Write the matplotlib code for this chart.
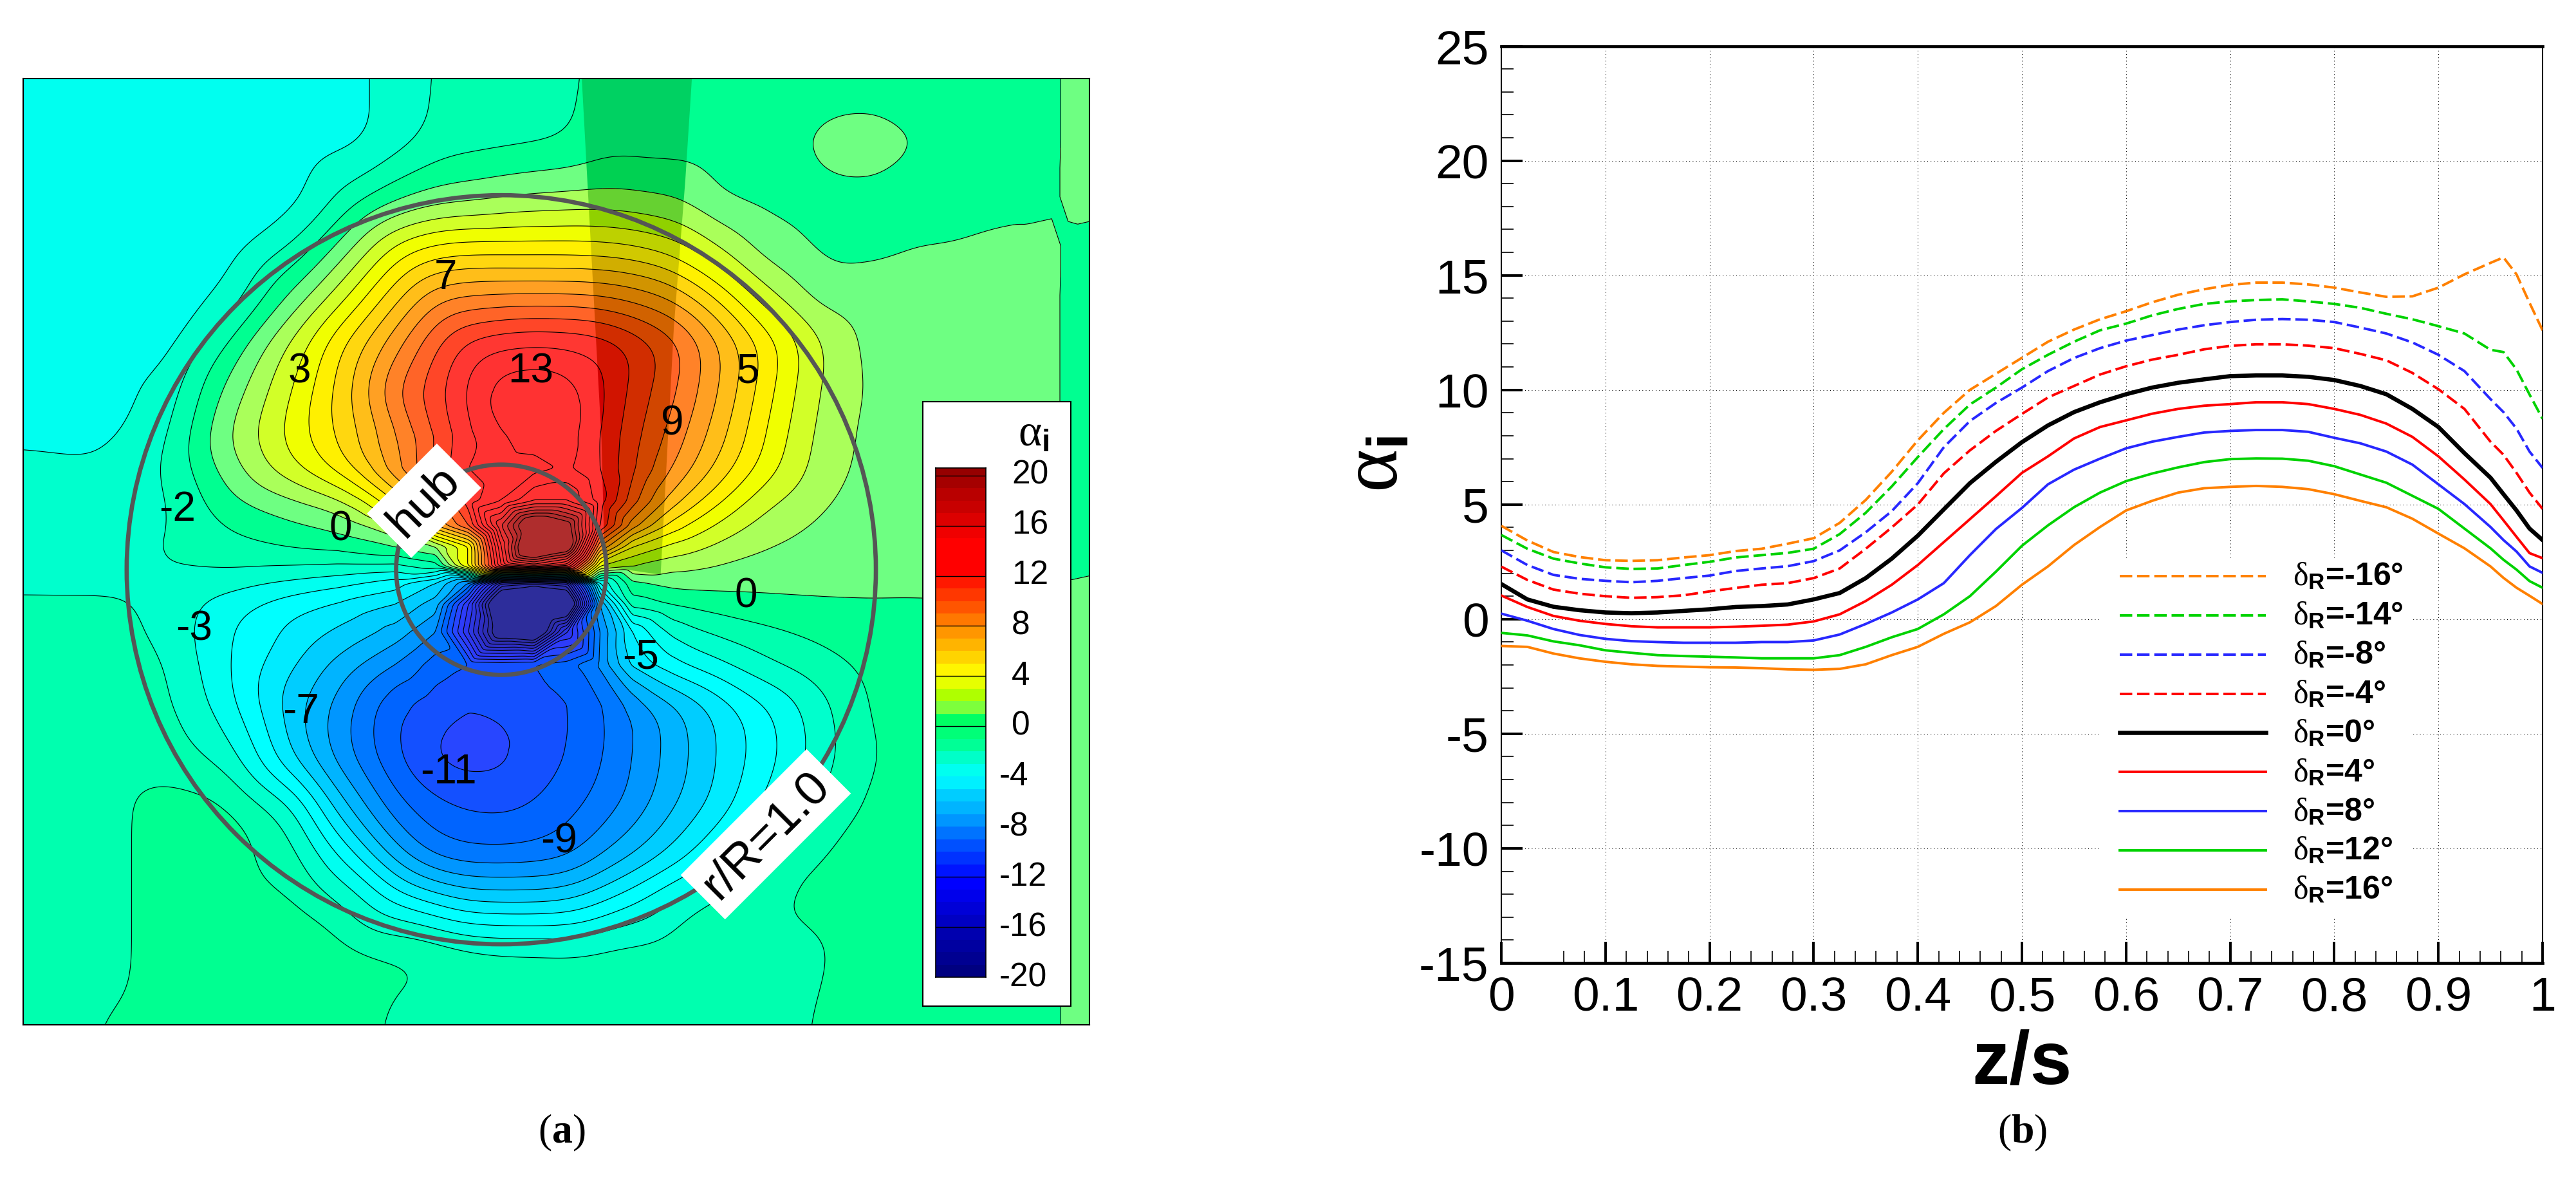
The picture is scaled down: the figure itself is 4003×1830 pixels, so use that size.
"""
Induced angle of attack behind a propeller: (a) contour plate, (b) spanwise curves
"""

import numpy as np
import matplotlib
matplotlib.use("Agg")
import matplotlib.pyplot as plt
import matplotlib.tri as mtri
from matplotlib.colors import ListedColormap, BoundaryNorm, to_rgb
from matplotlib.patches import Circle, Rectangle, Polygon

plt.rcParams["font.family"] = ["Liberation Sans", "DejaVu Sans"]
plt.rcParams["mathtext.fontset"] = "custom"
plt.rcParams["mathtext.rm"] = "Liberation Sans"
plt.rcParams["mathtext.it"] = "Liberation Serif:italic"
plt.rcParams["mathtext.bf"] = "Liberation Sans:bold"
plt.rcParams["mathtext.sf"] = "Liberation Serif"
plt.rcParams["mathtext.cal"] = "Liberation Serif:bold"

W, H = 4003, 1831

# ---------------------------------------------------------------------------
# Data for plate (a)
# ---------------------------------------------------------------------------
grid_x = [14, 60, 100, 140, 180, 210, 240, 265, 285, 305, 325, 345, 365, 385, 410, 440,
          470, 500, 530, 570, 610, 640, 650, 663]
grid_y = [48, 85, 120, 150, 180, 210, 240, 265, 285, 305, 320, 333, 345, 355, 368, 385,
          405, 430, 460, 490, 520, 550, 580, 624]

alpha_field = [
    [-3.5, -3.5, -3.5, -3.5, -3.5, -3.4, -2.6, -1.9, -1.6, -1.5, -1.5, -1.3, -0.6, -0.6, -0.5, -0.5, -0.5, -0.5, -0.5, -0.5, -0.5, -0.5, 0.4, 0.5],
    [-3.5, -3.5, -3.5, -3.5, -3.5, -3.4, -2.6, -1.7, -1.5, -1.4, -1.3, -1.1, -0.5, -0.5, -0.5, -0.5, -0.4, 0.3, 0.5, -0.1, -0.5, -0.5, 0.4, 0.5],
    [-3.5, -3.5, -3.5, -3.5, -3.4, -1.8, -0.4, 0.3, 0.5, 0.8, 1.0, 1.1, 1.2, 1.1, 0.9, -0.2, -0.4, -0.2, -0.2, -0.4, -0.4, -0.4, 0.4, 0.5],
    [-3.5, -3.5, -3.5, -3.5, -1.9, 0.5, 3.2, 4.2, 4.4, 4.3, 4.3, 4.3, 4.2, 4.0, 3.3, 1.7, 0.3, -0.3, -0.3, 0.0, 0.3, 0.5, -0.4, -0.5],
    [-3.5, -3.5, -3.5, -2.8, 0.3, 2.8, 5.6, 7.7, 8.0, 8.1, 8.1, 8.1, 8.0, 7.6, 6.8, 4.5, 2.0, 0.4, 0.5, 0.5, 0.5, 0.5, -0.5, -0.5],
    [-3.5, -3.5, -3.5, -0.8, 2.5, 5.2, 7.7, 10.0, 11.5, 12.0, 12.2, 12.1, 11.9, 11.0, 9.6, 7.0, 4.4, 2.0, 0.6, 0.5, 0.5, 0.5, -0.5, -0.5],
    [-3.5, -3.5, -2.7, 0.5, 3.2, 5.7, 9.2, 10.7, 12.3, 13.8, 14.0, 13.8, 12.4, 10.6, 9.2, 6.8, 4.0, 1.8, 0.8, 0.5, 0.5, 0.5, -0.5, -0.5],
    [-3.4, -3.3, -2.3, 1.2, 3.6, 5.4, 7.6, 10.0, 11.8, 12.9, 13.6, 13.6, 12.0, 10.3, 8.6, 6.2, 3.6, 1.6, 0.7, 0.5, 0.5, 0.5, -0.5, -0.5],
    [-2.5, -2.8, -2.0, 0.6, 3.0, 4.9, 7.9, 10.3, 12.0, 12.5, 12.6, 13.2, 12.0, 10.2, 8.1, 5.6, 3.3, 1.5, 0.7, 0.5, 0.5, 0.5, -0.5, -0.5],
    [-2.5, -2.7, -2.2, -0.2, 0.8, 1.8, 5.0, 9.5, 11.5, 13.0, 15.0, 15.0, 12.5, 9.5, 6.5, 4.0, 2.0, 1.1, 0.6, 0.5, 0.5, 0.5, -0.5, -0.5],
    [-2.5, -2.5, -2.2, -1.0, -0.2, 0.1, 2.0, 7.0, 10.0, 17.0, 23.0, 21.0, 12.0, 7.5, 4.5, 2.6, 1.4, 0.8, 0.5, 0.5, 0.5, 0.5, -0.5, -0.5],
    [-2.4, -2.4, -1.9, -1.2, -0.6, -0.2, 0.0, 1.0, 4.0, 15.0, 25.0, 22.0, 8.0, 4.0, 2.5, 1.5, 0.9, 0.6, 0.4, 0.5, 0.5, 0.5, -0.5, -0.5],
    [-2.4, -2.4, -2.0, -1.8, -2.0, -2.1, -2.3, -1.5, 4.0, 14.0, 16.0, 14.0, 3.0, 2.0, 1.3, 0.9, 0.6, 0.5, 0.4, 0.4, 0.4, 0.4, -0.4, -0.4],
    [-2.4, -2.4, -2.2, -2.5, -3.2, -4.0, -4.5, -6.0, -9.0, -18.0, -19.0, -18.0, -4.0, -0.2, 0.3, 0.3, 0.3, 0.3, 0.2, 0.3, 0.3, 0.3, 0.1, 0.3],
    [-1.7, -1.7, -2.3, -3.7, -5.0, -5.5, -6.0, -7.5, -14.0, -24.0, -26.0, -24.0, -8.0, -1.5, -0.8, -0.4, -0.2, -0.1, 0.0, -0.1, -0.1, -0.1, 0.3, 0.5],
    [-1.4, -1.5, -2.3, -4.0, -5.3, -6.2, -7.4, -9.0, -15.0, -22.0, -23.0, -15.0, -9.0, -5.0, -2.7, -1.8, -1.2, -0.8, -0.6, -0.5, -0.5, -0.5, 0.4, 0.5],
    [-1.5, -1.5, -1.8, -4.0, -6.0, -7.6, -9.0, -10.5, -11.0, -11.2, -11.0, -10.5, -8.8, -5.4, -4.0, -3.0, -2.0, -1.3, -0.7, -0.5, -0.5, -0.5, 0.4, 0.5],
    [-1.5, -1.5, -1.7, -3.7, -6.8, -8.7, -11.0, -11.6, -12.0, -11.8, -11.4, -11.1, -10.3, -9.0, -7.4, -5.6, -4.0, -2.3, -0.8, -0.5, -0.5, -0.5, 0.4, 0.5],
    [-1.5, -1.5, -1.5, -2.6, -6.3, -8.8, -11.0, -12.3, -12.6, -12.4, -11.6, -11.1, -10.2, -9.0, -7.6, -5.8, -4.3, -2.5, -1.0, -0.6, -0.5, -0.5, 0.4, 0.5],
    [-1.5, -1.4, -0.6, -0.8, -3.0, -7.0, -9.7, -10.8, -11.2, -11.3, -11.0, -10.4, -9.7, -8.7, -7.2, -5.5, -3.6, -1.8, -0.8, -0.6, -0.5, -0.5, 0.4, 0.5],
    [-1.5, -1.4, -0.6, -0.6, -1.6, -4.3, -7.6, -9.5, -9.9, -9.9, -9.8, -9.5, -8.2, -7.2, -5.7, -3.8, -1.8, -0.9, -0.7, -0.6, -0.5, -0.5, 0.4, 0.5],
    [-1.5, -1.4, -0.6, -0.6, -0.8, -2.0, -4.0, -5.0, -5.9, -6.0, -6.0, -5.8, -5.0, -4.0, -2.6, -1.4, -1.0, -0.8, -0.6, -0.5, -0.5, -0.5, 0.4, 0.5],
    [-1.5, -1.4, -0.6, -0.6, -0.6, -0.6, -0.8, -1.0, -1.4, -1.6, -1.6, -1.7, -1.6, -1.5, -1.4, -1.4, -1.3, -1.1, -0.6, -0.5, -0.5, -0.5, 0.4, 0.5],
    [-1.5, -1.0, -0.6, -0.6, -0.6, -0.7, -1.1, -1.4, -1.5, -1.5, -1.5, -1.5, -1.5, -1.5, -1.5, -1.4, -1.3, -0.9, -0.6, -0.5, -0.5, -0.5, 0.4, 0.5],
]

levels = list(range(-20, 21))

# one colour per 1 degree band, lowest first, as printed in the colour bar
bar_colors = ["#000080", "#000091", "#0000a0", "#0000af", "#0000c3", "#0000d7", "#0000eb", "#0000ff",
              "#0014ff", "#0032ff", "#0050ff", "#0073ff", "#0096ff", "#00b4ff", "#00cdff", "#00f0ff",
              "#00fff0", "#00ffc8", "#00ff96", "#00ff78", "#00ff64", "#7dff3c", "#afff00", "#e6ff00",
              "#fff500", "#ffd400", "#ffb400", "#ff9600", "#ff7800", "#ff5500", "#ff3700", "#ff1900",
              "#ff0000", "#ff0000", "#ff0000", "#f00000", "#dc0000", "#c80000", "#b90000", "#a50000",
              "#960000"]

# the field itself is drawn lighter than the bar
field_colors = ["#2d2d9b", "#2d2da5", "#2d2db4", "#2d2dc3", "#2d32d2", "#2d37e1", "#2d37f0", "#2d3cfa",
                "#2846ff", "#1450ff", "#0064ff", "#0078ff", "#0096ff", "#00b4ff", "#00cdff", "#00ebff",
                "#00ffff", "#00fff0", "#00ffcd", "#00ffaf", "#00ff91", "#6eff82", "#aaff5a", "#d2ff28",
                "#f0ff00", "#fff000", "#ffd70f", "#ffbe19", "#ffa023", "#ff8228", "#ff6428", "#ff4628",
                "#ff3732", "#ff3232", "#ff3232", "#ff3232", "#f03232", "#e63232", "#d23232", "#be2d2d",
                "#af2d2d", "#af2d2d"]

contour_labels = ["7", "3", "13", "5", "9", "-2", "0", "0", "-3", "-5", "-7", "-11", "-9"]
contour_label_x = [271, 182, 323, 455, 409, 108, 207, 454, 118, 390, 183, 273, 340]
contour_label_y = [169, 226, 226, 226, 258, 310, 322, 363, 383, 400, 433, 470, 512]

bar_ticks = [20, 16, 12, 8, 4, 0, -4, -8, -12, -16, -20]

# ---------------------------------------------------------------------------
# Data for plot (b)
# ---------------------------------------------------------------------------
z_s = [0, 0.025, 0.05, 0.075, 0.1, 0.125, 0.15, 0.175, 0.2, 0.225, 0.25, 0.275, 0.3, 0.325, 0.35, 0.375,
       0.4, 0.425, 0.45, 0.475, 0.5, 0.525, 0.55, 0.575, 0.6, 0.625, 0.65, 0.675, 0.7, 0.725, 0.75, 0.775,
       0.8, 0.825, 0.85, 0.875, 0.9, 0.925, 0.95, 0.9625, 0.975, 0.9875, 1.0]

d_m16 = [4.07, 3.43, 2.93, 2.71, 2.57, 2.54, 2.57, 2.69, 2.79, 2.97, 3.07, 3.29, 3.53, 4.2, 5.2, 6.43,
         7.8, 9.0, 10.0, 10.7, 11.4, 12.1, 12.63, 13.08, 13.43, 13.82, 14.15, 14.39, 14.58, 14.68, 14.68, 14.6,
         14.46, 14.25, 14.06, 14.08, 14.46, 15.04, 15.54, 15.78, 15.04, 13.8, 12.6]
d_m14 = [3.67, 3.07, 2.64, 2.43, 2.26, 2.19, 2.21, 2.36, 2.5, 2.69, 2.79, 2.89, 3.07, 3.71, 4.64, 5.79,
         7.07, 8.29, 9.36, 10.1, 10.9, 11.53, 12.1, 12.6, 12.89, 13.25, 13.53, 13.75, 13.86, 13.92, 13.95, 13.86,
         13.75, 13.58, 13.32, 13.08, 12.78, 12.46, 11.75, 11.65, 10.89, 9.8, 8.74]
d_m8 = [3.0, 2.36, 1.93, 1.76, 1.67, 1.61, 1.67, 1.79, 1.9, 2.1, 2.21, 2.31, 2.53, 3.0, 3.79, 4.71,
        5.93, 7.5, 8.64, 9.43, 10.1, 10.82, 11.39, 11.82, 12.15, 12.39, 12.63, 12.82, 12.96, 13.06, 13.09, 13.06,
        12.96, 12.72, 12.46, 12.07, 11.53, 10.82, 9.6, 9.03, 8.31, 7.31, 6.6]
d_m4 = [2.29, 1.71, 1.29, 1.11, 1.0, 0.93, 0.96, 1.04, 1.21, 1.36, 1.5, 1.57, 1.79, 2.21, 3.07, 4.0,
        5.0, 6.36, 7.36, 8.21, 8.95, 9.67, 10.17, 10.67, 11.03, 11.32, 11.53, 11.77, 11.92, 11.99, 11.99, 11.93,
        11.82, 11.57, 11.29, 10.74, 10.03, 9.17, 7.74, 7.17, 6.38, 5.52, 4.81]
d_0 = [1.53, 0.86, 0.54, 0.39, 0.29, 0.26, 0.29, 0.36, 0.43, 0.53, 0.57, 0.64, 0.86, 1.14, 1.79, 2.64,
       3.64, 4.79, 5.93, 6.86, 7.72, 8.45, 9.03, 9.46, 9.81, 10.1, 10.31, 10.46, 10.6, 10.63, 10.63, 10.57,
       10.43, 10.17, 9.81, 9.17, 8.38, 7.24, 6.17, 5.45, 4.74, 3.95, 3.45]
d_4 = [1.03, 0.53, 0.14, -0.07, -0.21, -0.31, -0.36, -0.36, -0.36, -0.33, -0.29, -0.24, -0.1, 0.21, 0.79, 1.5,
       2.36, 3.36, 4.36, 5.36, 6.38, 7.1, 7.88, 8.38, 8.67, 8.96, 9.17, 9.31, 9.38, 9.46, 9.46, 9.38,
       9.17, 8.91, 8.53, 7.95, 7.1, 6.09, 5.02, 4.31, 3.59, 2.88, 2.66]
d_8 = [0.24, -0.07, -0.43, -0.69, -0.86, -0.96, -1.0, -1.03, -1.03, -1.03, -1.0, -1.0, -0.93, -0.67, -0.21, 0.29,
       0.86, 1.57, 2.79, 3.93, 4.85, 5.88, 6.52, 7.0, 7.45, 7.74, 7.95, 8.14, 8.21, 8.25, 8.25, 8.17,
       7.91, 7.67, 7.31, 6.74, 5.88, 5.02, 4.02, 3.45, 2.95, 2.3, 2.02]
d_12 = [-0.6, -0.71, -0.97, -1.14, -1.36, -1.47, -1.57, -1.61, -1.64, -1.67, -1.71, -1.71, -1.71, -1.57, -1.21, -0.79,
        -0.43, 0.21, 1.0, 2.07, 3.2, 4.09, 4.88, 5.52, 6.02, 6.35, 6.62, 6.85, 6.98, 7.01, 7.0, 6.91,
        6.67, 6.31, 5.95, 5.38, 4.81, 3.95, 3.09, 2.59, 2.16, 1.66, 1.37]
d_16 = [-1.17, -1.21, -1.5, -1.71, -1.86, -1.97, -2.04, -2.07, -2.1, -2.11, -2.14, -2.19, -2.21, -2.17, -1.97, -1.57,
        -1.21, -0.64, -0.14, 0.57, 1.5, 2.3, 3.23, 4.02, 4.74, 5.16, 5.52, 5.71, 5.77, 5.81, 5.77, 5.67,
        5.45, 5.16, 4.88, 4.38, 3.73, 3.09, 2.3, 1.8, 1.37, 1.02, 0.66]

curve_labels = ["-16", "-14", "-8", "-4", "0", "4", "8", "12", "16"]
legend_y = [1.88, 0.17, -1.54, -3.25, -4.96, -6.67, -8.38, -10.09, -11.8]

x_minor = [0.06, 0.08, 0.12, 0.14, 0.16, 0.18, 0.22, 0.24, 0.26, 0.28, 0.32, 0.34, 0.36, 0.38,
           0.42, 0.44, 0.46, 0.48, 0.52, 0.54, 0.56, 0.58, 0.62, 0.64, 0.66, 0.68, 0.72, 0.74,
           0.76, 0.78, 0.82, 0.84, 0.86, 0.88, 0.92, 0.94, 0.96, 0.98]

fig = plt.figure(figsize=(W / 100, H / 100), dpi=100, facecolor="white")


def px_axes(x0, y0, x1, y1):
    # axes from pixel corners, y counted from the top like in the reference
    return fig.add_axes([x0 / W, 1 - y1 / H, (x1 - x0) / W, (y1 - y0) / H])


def box_blur(z, n):
    # two passes of a running mean along both directions
    kernel = np.ones(n) / n
    out = np.pad(z, n, mode="edge")
    for _ in range(2):
        out = np.apply_along_axis(lambda r: np.convolve(r, kernel, mode="same"), 0, out)
        out = np.apply_along_axis(lambda r: np.convolve(r, kernel, mode="same"), 1, out)
    return out[n:-n, n:-n]


# ---------------------------------------------------------------------------
# Plate (a): contour map
# ---------------------------------------------------------------------------
ax1 = px_axes(36, 123, 1693, 1593)
ax1.set_xlim(14, 663)
ax1.set_ylim(624, 48)
ax1.set_xticks([])
ax1.set_yticks([])
for s in ax1.spines.values():
    s.set_linewidth(1.5)

# read values on a coarse grid -> fine grid, rounded off except at the hub and the right strip
xx, yy = np.meshgrid(grid_x, grid_y)
tri = mtri.Triangulation(xx.ravel(), yy.ravel())
interp = mtri.LinearTriInterpolator(tri, np.array(alpha_field).ravel())
fine_x = np.arange(14, 663.5, 0.5)
fine_y = np.arange(48, 624.5, 0.5)
fx, fy = np.meshgrid(fine_x, fine_y)
z_raw = np.ma.filled(interp(fx, fy), 0.0)
z_small = box_blur(z_raw, 5)
z_large = box_blur(z_raw, 49)
hub_dist = np.hypot(fx - 315, fy - 347)
w_large = np.clip((hub_dist - 70) / 40, 0, 1)
z_fine = (1 - w_large) * z_small + w_large * z_large
w_keep = np.clip((fx - 615) / 15, 0, 1)
z_fine = (1 - w_keep) * z_fine + w_keep * z_raw

field_cmap = ListedColormap(field_colors[1:-1])
field_cmap.set_under(field_colors[0])
field_cmap.set_over(field_colors[-1])
field_norm = BoundaryNorm(levels, field_cmap.N)
ax1.contourf(fx, fy, z_fine, levels=levels, cmap=field_cmap, norm=field_norm, extend="both", zorder=1)

# strut shows through darker
strut_rgb = [tuple(0.82 * c for c in to_rgb(k)) for k in bar_colors]
strut_cmap = ListedColormap(strut_rgb[:40])
strut_cmap.set_under(strut_rgb[0])
strut_cmap.set_over(strut_rgb[40])
strut = Polygon([(354, 48), (421, 48), (417, 110), (410, 200), (402, 350), (368, 345), (366, 268)],
                closed=True, transform=ax1.transData, facecolor="none", edgecolor="none")
ax1.add_patch(strut)
strut_cs = ax1.contourf(fx, fy, z_fine, levels=levels, cmap=strut_cmap,
                        norm=BoundaryNorm(levels, 40), extend="both", zorder=2)
strut_cs.set_clip_path(strut)

ax1.contour(fx, fy, z_fine, levels=levels, colors="black", linewidths=0.8,
            linestyles="solid", zorder=3)

ax1.add_patch(Circle((305, 347), 228, fill=False, edgecolor="#555555", linewidth=4.8, zorder=4))
ax1.add_patch(Circle((305, 347), 64, fill=False, edgecolor="#555555", linewidth=4.8, zorder=4))

for lab, lx, ly in zip(contour_labels, contour_label_x, contour_label_y):
    ax1.text(lx, ly, lab, fontsize=46, ha="center", va="center", zorder=5)

ax1.text(258, 305, "hub", fontsize=54, rotation=45, ha="center", va="center", zorder=6,
         bbox=dict(facecolor="white", edgecolor="none", pad=10))
ax1.text(466, 508, "r/R=1.0", fontsize=54, rotation=45, ha="center", va="center", zorder=6,
         bbox=dict(facecolor="white", edgecolor="none", pad=10))

# colour bar box
ax1.add_patch(Rectangle((561.7, 244.8), 90.1, 367.8, facecolor="white", edgecolor="black",
                        linewidth=1.5, zorder=7))
ax1.text(629, 264, r"$\mathsf{\alpha}_{\mathbf{i}}$", fontsize=50, ha="center", va="center", zorder=8)

cax = px_axes(1454, 728, 1532, 1519)
cax.pcolormesh([0, 1], levels, np.arange(40).reshape(-1, 1), cmap=ListedColormap(bar_colors[:40]),
               vmin=-0.5, vmax=39.5)
cax.axhspan(20, 20.6, color=bar_colors[40], lw=0)
cax.set_xlim(0, 1)
cax.set_ylim(-20, 20.6)
cax.set_xticks([])
cax.set_yticks([])
cax.set_zorder(5)
for s in cax.spines.values():
    s.set_linewidth(1.2)
for lv in [20, 16, 12, 8, 4, 0, -12, -16]:
    cax.axhline(lv, color="black", lw=1.0)

# tick labels of the bar: digits start at one x, the minus sign hangs left of it
tax = px_axes(0, 0, W, H)
tax.set_xlim(0, W)
tax.set_ylim(H, 0)
tax.axis("off")
tax.set_zorder(6)
for t in bar_ticks:
    ypx = 1519 - (t + 20) * (1519 - 737.5) / 40
    tx = 1572 if t >= 0 else 1553
    tax.text(tx, ypx, str(t), fontsize=37, ha="left", va="center")

tax.text(873, 1760, r"($\mathcal{a}$)", fontsize=46, family="Liberation Serif", ha="center", va="center")
tax.text(3143, 1760, r"($\mathcal{b}$)", fontsize=46, family="Liberation Serif", ha="center", va="center")

# ---------------------------------------------------------------------------
# Plot (b): curves
# ---------------------------------------------------------------------------
ax2 = px_axes(2333, 72.5, 3951, 1497)
ax2.set_xlim(0, 1)
ax2.set_ylim(-15, 25)
ax2.set_xticks(np.arange(0, 1.01, 0.1))
ax2.set_xticklabels(["0", "0.1", "0.2", "0.3", "0.4", "0.5", "0.6", "0.7", "0.8", "0.9", "1"])
ax2.set_xticks(x_minor, minor=True)
ax2.set_yticks(np.arange(-15, 26, 5))
ax2.set_yticklabels(["-15", "-10", "-5", "0", "5", "10", "15", "20", "25"])
ax2.set_yticks(np.arange(-15, 26, 1), minor=True)
ax2.tick_params(axis="both", which="major", direction="in", length=24, width=2.8, labelsize=54, pad=14)
ax2.tick_params(axis="both", which="minor", direction="in", length=14, width=1.2)
ax2.grid(True, which="major", color="black", linestyle=(0, (1, 4)), linewidth=0.75)
ax2.spines["top"].set_linewidth(3.4)
ax2.spines["bottom"].set_linewidth(3.4)
ax2.spines["left"].set_linewidth(1.5)
ax2.spines["right"].set_linewidth(1.5)

ax2.set_xlabel("z/s", fontsize=84, fontweight="bold", labelpad=10)
ax2.set_ylabel(r"$\mathsf{\alpha}_{\mathbf{i}}$", fontsize=92)
ax2.yaxis.set_label_coords(-0.0835, 0.545)

# legend sits on a white patch that also blanks the grid
ax2.add_patch(Rectangle((0.575, -13.0), 0.3, 15.6, facecolor="white", edgecolor="none", zorder=2))

ORANGE = "#ff8000"
GREEN = "#00d200"
BLUE = "#2828ff"
RED = "#ff0000"
DASH = (0, (5.0, 1.9))

curve_y = [d_m16, d_m14, d_m8, d_m4, d_0, d_4, d_8, d_12, d_16]
curve_c = [ORANGE, GREEN, BLUE, RED, "black", RED, BLUE, GREEN, ORANGE]
curve_s = [DASH, DASH, DASH, DASH, "solid", "solid", "solid", "solid", "solid"]
curve_w = [2.8, 2.8, 2.8, 2.8, 4.7, 2.8, 2.8, 2.8, 2.8]

for cy, col, sty, lw in zip(curve_y, curve_c, curve_s, curve_w):
    ax2.plot(z_s, cy, color=col, linestyle=sty, linewidth=lw, zorder=3)

for lab, ly, col, sty, lw in zip(curve_labels, legend_y, curve_c, curve_s, curve_w):
    ax2.plot([0.594, 0.734], [ly, ly], color=col, linestyle=sty, linewidth=lw, zorder=3)
    ax2.text(0.7605, ly, r"$\mathsf{\delta}_{\mathbf{R}}$=" + lab + "\u00b0", fontsize=36, fontweight="bold",
             ha="left", va="center", zorder=4)

fig.savefig("out.png", dpi=100)
